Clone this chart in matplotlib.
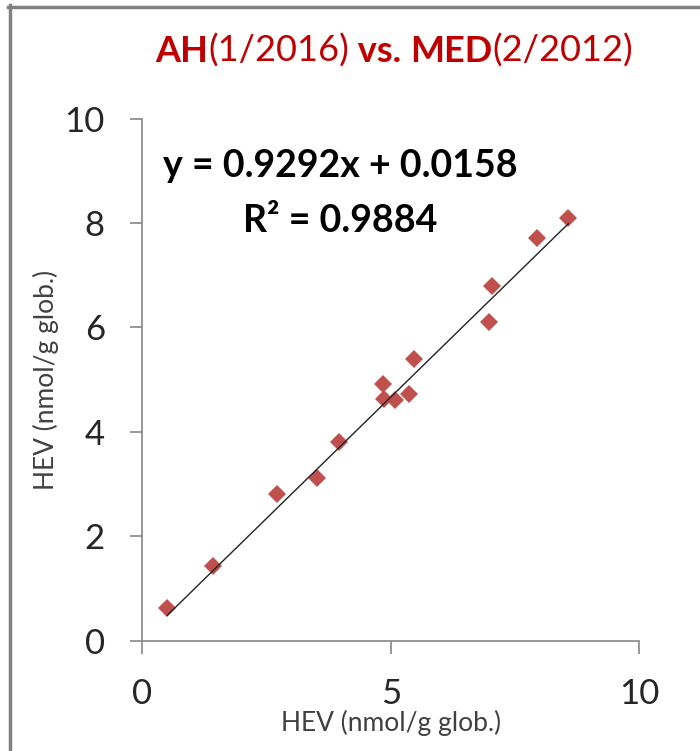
import numpy as np
import matplotlib
matplotlib.use("Agg")
import matplotlib.pyplot as plt
from matplotlib.lines import Line2D
from matplotlib.offsetbox import TextArea, HPacker, AnchoredOffsetbox

plt.rcParams['font.family'] = ['Lato', 'DejaVu Sans']

# datos
hev_ah = [0.50, 1.43, 2.71, 3.52, 3.96, 4.85, 4.87, 5.09, 5.37, 5.47, 6.98, 7.05, 7.95, 8.58]
hev_med = [0.62, 1.43, 2.81, 3.12, 3.81, 4.92, 4.62, 4.60, 4.73, 5.40, 6.10, 6.79, 7.72, 8.10]
pendiente = 0.9292
ordenada = 0.0158
r2 = 0.9884
ticks = [0, 5, 10]
ticks_y = [0, 2, 4, 6, 8, 10]
etiqueta = 'HEV (nmol/g glob.)'
titulo = [('AH', 'bold'), ('(1/2016)', 'normal'), (' vs. ', 'bold'),
          ('MED', 'bold'), ('(2/2012)', 'normal')]

rojo = '#C0504D'
rojo_titulo = '#C00000'
gris = '#868686'
texto = '#262626'

fig = plt.figure(figsize=(7, 7.51), dpi=100)
ax = fig.add_axes([0.2033, 0.1471, 0.7096, 0.6951])

# linea de tendencia
xt = np.array([min(hev_ah), max(hev_ah)])
ax.plot(xt, pendiente * xt + ordenada, color='#222222', lw=1.0, zorder=3)
ax.plot(hev_ah, hev_med, linestyle='none', marker='D', markersize=9.5,
        color=rojo, markeredgewidth=0, zorder=2)

ax.set_xlim(0, 10)
ax.set_ylim(0, 10)
ax.set_xticks(ticks)
ax.set_yticks(ticks_y)
for s in ['top', 'right']:
    ax.spines[s].set_visible(False)
for s in ['left', 'bottom']:
    ax.spines[s].set_color(gris)
    ax.spines[s].set_linewidth(1.2)
ax.tick_params(axis='both', direction='out', length=9, width=1.2, color=gris,
               labelsize=25, labelcolor=texto)
ax.tick_params(axis='x', pad=18)
ax.tick_params(axis='y', pad=18)

ax.set_xlabel(etiqueta, fontsize=19, color='#404040', labelpad=0)
ax.set_ylabel(etiqueta, fontsize=19, color='#404040', labelpad=4)

ax.text(3.98, 9.09, f'y = {pendiente}x + {ordenada}', ha='center',
        va='center', fontsize=27, fontweight='bold', color='black')
ax.text(3.98, 8.04, f'R² = {r2}', ha='center',
        va='center', fontsize=27, fontweight='bold', color='black')

# titulo con partes en negrita
partes = [TextArea(t, textprops=dict(fontsize=26, fontweight=w, color=rojo_titulo))
          for t, w in titulo]
caja = HPacker(children=partes, align='baseline', pad=0, sep=0)
ab = AnchoredOffsetbox(loc='center', child=caja, pad=0, frameon=False,
                       bbox_to_anchor=(0.563, 0.932), bbox_transform=fig.transFigure)
fig.add_artist(ab)

# marco del grafico
fig.add_artist(Line2D([9.5 / 700, 9.5 / 700], [0, 1 - 5 / 751], color='#808080',
                      lw=2.5, transform=fig.transFigure))
fig.add_artist(Line2D([8 / 700, 1], [1 - 7 / 751, 1 - 7 / 751], color='#808080',
                      lw=2.5, transform=fig.transFigure))

fig.savefig('out.png', dpi=100)
